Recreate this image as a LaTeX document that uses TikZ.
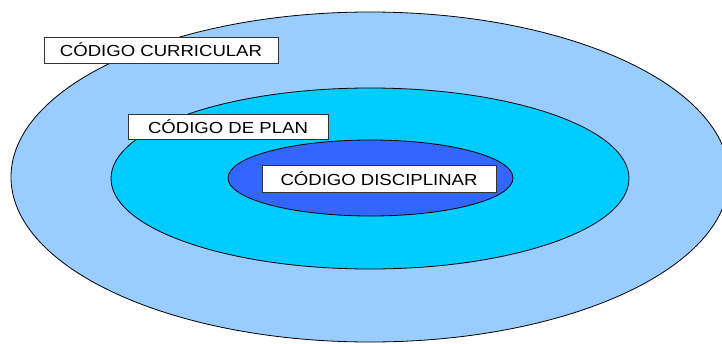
\documentclass[tikz,border=0pt]{standalone}
\usepackage{fontspec}
\setmainfont{Liberation Sans}
\newfontfamily\labelfont[FakeStretch=1.16]{Liberation Sans}
\definecolor{outerblue}{HTML}{99CCFF}
\definecolor{midblue}{HTML}{00CCFF}
\definecolor{innerblue}{HTML}{3366FF}
\begin{document}
\begin{tikzpicture}[x=1pt,y=-1pt,
  ring/.style={draw=black,line width=0.8pt},
  label/.style={draw=black!80,fill=white,line width=0.8pt,inner sep=0pt,font=\labelfont\fontsize{16}{19}\selectfont}]
\useasboundingbox (0,0) rectangle (722,343);
\clip (0,0) rectangle (722,343);
\draw[ring,fill=outerblue] (370,177) ellipse [x radius=359,y radius=165];
\draw[ring,fill=midblue] (370,178.5) ellipse [x radius=259,y radius=90.5];
\draw[ring,fill=innerblue] (370.5,178) ellipse [x radius=142.5,y radius=38];
\node[label,minimum width=234pt,minimum height=26pt] (cc) at (161,50) {CÓDIGO CURRICULAR};
\node[label,minimum width=200pt,minimum height=25pt] (cp) at (228,126.5) {CÓDIGO DE PLAN};
\node[label,minimum width=234pt,minimum height=27pt] (cd) at (379,178.5) {CÓDIGO DISCIPLINAR};
\end{tikzpicture}
\end{document}
